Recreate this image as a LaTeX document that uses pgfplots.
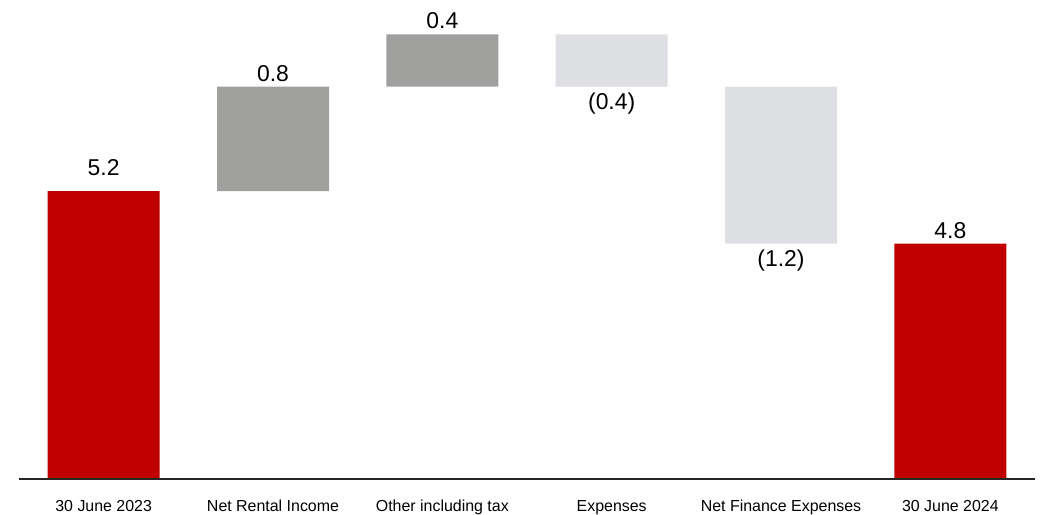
\documentclass[border=0pt]{standalone}
\usepackage{fontspec}
\setmainfont{Liberation Sans}
\usepackage{pgfplots}
\pgfplotsset{compat=1.18}
\definecolor{wfred}{HTML}{C00000}
\definecolor{wfdark}{HTML}{A0A09F}
\definecolor{wflight}{HTML}{DEDFE3}
\pgfplotsset{
  wfbase/.style={
    at={(19bp,36bp)}, anchor=south west,
    scale only axis, width=1016bp, height=479bp,
    xmin=-0.5, xmax=5.5, ymin=3, ymax=6.662,
  }
}
\begin{document}
\begin{tikzpicture}[x=1bp,y=1bp]
\useasboundingbox (0,0) rectangle (1040,515);
\begin{axis}[
  wfbase,
  axis on top,
  axis x line*=bottom, axis y line=none,
  axis line style={black!85, line width=1.2bp, -},
  xtick={0,1,2,3,4,5},
  xticklabels={30 June 2023, Net Rental Income, Other including tax, Expenses, Net Finance Expenses, 30 June 2024},
  major tick length=0pt,
  ytick=\empty,
  xticklabel style={font=\fontsize{16}{19}\selectfont, anchor=base, yshift=-33bp, inner sep=0pt},
  ybar stacked, bar width=112bp,
]
\addplot[draw=none, fill=none] coordinates {(0,0) (1,5.2) (2,6.0) (3,6.0) (4,4.8) (5,0)};
\addplot[draw=none, fill=wfred] coordinates {(0,5.2) (1,0) (2,0) (3,0) (4,0) (5,4.8)};
\addplot[draw=none, fill=wfdark] coordinates {(0,0) (1,0.8) (2,0.4) (3,0) (4,0) (5,0)};
\addplot[draw=none, fill=wflight] coordinates {(0,0) (1,0) (2,0) (3,0.4) (4,1.2) (5,0)};
\end{axis}
\begin{axis}[wfbase, hide axis, clip=false]
\addplot[draw=none, mark=none, nodes near coords, point meta=explicit symbolic,
  nodes near coords style={anchor=south, inner sep=0pt, yshift=15bp, font=\fontsize{23}{27}\selectfont, text=black}]
  table[meta=label] {
x y label
0 5.2 5.2
};
\addplot[draw=none, mark=none, nodes near coords, point meta=explicit symbolic,
  nodes near coords style={anchor=south, inner sep=0pt, yshift=5bp, font=\fontsize{23}{27}\selectfont, text=black}]
  table[meta=label] {
x y label
1 6.0 0.8
2 6.4 0.4
5 4.8 4.8
};
\addplot[draw=none, mark=none, nodes near coords, point meta=explicit symbolic,
  nodes near coords style={anchor=north, inner sep=0pt, yshift=-6bp, font=\fontsize{23}{27}\selectfont, text=black}]
  table[meta=label] {
x y label
3 6.0 (0.4)
4 4.8 (1.2)
};
\end{axis}
\end{tikzpicture}
\end{document}
